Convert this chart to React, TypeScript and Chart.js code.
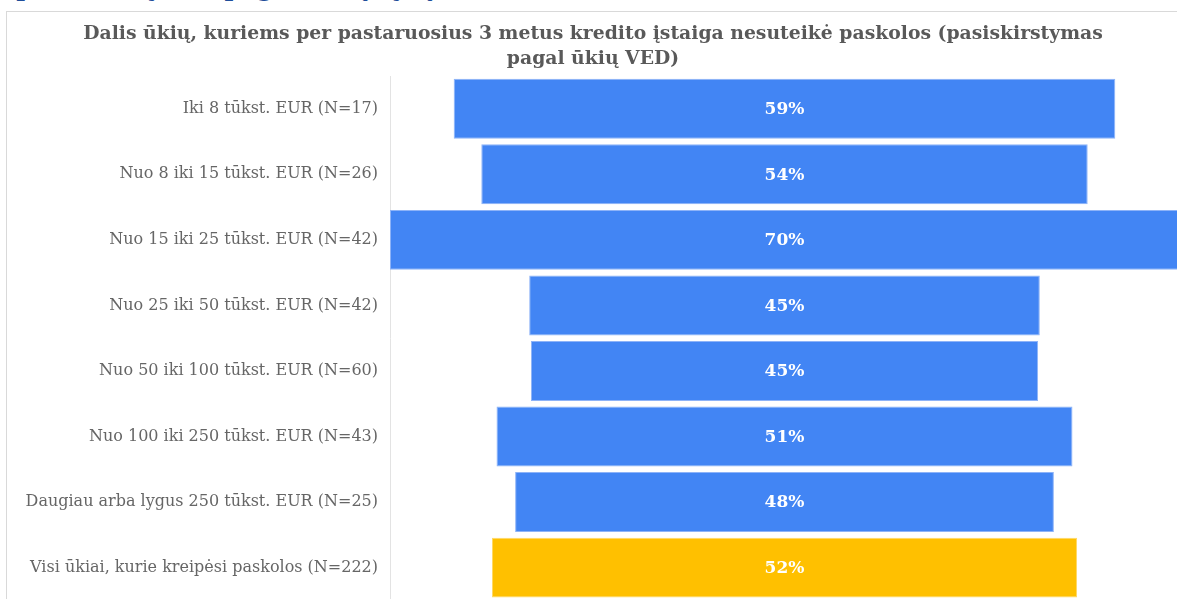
import React, { useEffect, useRef } from "react";
import { Chart, registerables } from "chart.js";

Chart.register(...registerables);

const categories = [
  "Iki 8 tūkst. EUR (N=17)",
  "Nuo 8 iki 15 tūkst. EUR (N=26)",
  "Nuo 15 iki 25 tūkst. EUR (N=42)",
  "Nuo 25 iki 50 tūkst. EUR (N=42)",
  "Nuo 50 iki 100 tūkst. EUR (N=60)",
  "Nuo 100 iki 250 tūkst. EUR (N=43)",
  "Daugiau arba lygus 250 tūkst. EUR (N=25)",
  "Visi ūkiai, kurie kreipėsi paskolos (N=222)",
];
const shares = [58.7, 53.8, 70.0, 45.3, 45.0, 51.1, 47.8, 51.9];
const shareLabels = ["59%", "54%", "70%", "45%", "45%", "51%", "48%", "52%"];
const titleLines = [
  "Dalis ūkių, kuriems per pastaruosius 3 metus kredito įstaiga nesuteikė paskolos (pasiskirstymas",
  "pagal ūkių VED)",
];
const headerText = "(pasiskirstymas pagal ūkių dydį)";

const FONT = "'DejaVu Serif', serif";

export default function App() {
  const ref = useRef<HTMLCanvasElement | null>(null);

  useEffect(() => {
    if (!ref.current) return;
    const maxShare = Math.max(...shares);
    const labelPlugin = {
      id: "barLabels",
      afterDatasetsDraw(chart: any) {
        const ctx = chart.ctx;
        const meta = chart.getDatasetMeta(0);
        ctx.save();
        ctx.fillStyle = "#ffffff";
        ctx.font = `bold 17px ${FONT}`;
        ctx.textAlign = "center";
        ctx.textBaseline = "middle";
        meta.data.forEach((bar: any, i: number) => {
          const p = bar.getProps(["x", "base", "y"], true);
          ctx.fillText(shareLabels[i], (p.x + p.base) / 2, p.y + 1);
        });
        ctx.restore();
      },
    };
    const chart = new Chart(ref.current, {
      type: "bar",
      data: {
        labels: categories,
        datasets: [
          {
            data: shares.map((v) => [-v / 2, v / 2]) as any,
            backgroundColor: categories.map((_, i) =>
              i === categories.length - 1 ? "#FFC000" : "#4285F4"
            ),
            borderColor: categories.map((_, i) =>
              i === categories.length - 1 ? "#FFD966" : "#8DB3F8"
            ),
            borderWidth: 1,
            borderSkipped: false,
            barPercentage: 0.915,
            categoryPercentage: 1,
          },
        ],
      },
      options: {
        indexAxis: "y",
        animation: false,
        responsive: false,
        maintainAspectRatio: false,
        layout: { padding: { left: 0, right: 12, top: 0, bottom: 0 } },
        plugins: {
          legend: { display: false },
          tooltip: { enabled: false },
          title: {
            display: true,
            text: titleLines,
            color: "#595959",
            font: { family: FONT, size: 18.8, weight: "bold", lineHeight: 1.33 },
            padding: { top: 10, bottom: 4 },
          },
        },
        scales: {
          x: {
            display: false,
            min: -maxShare / 2,
            max: maxShare / 2,
          },
          y: {
            grid: { display: false },
            border: { display: true, color: "#e3e3e3", width: 1 },
            ticks: {
              color: "#666666",
              font: { family: FONT, size: 16 },
              padding: 4,
            },
            afterFit(scale: any) {
              scale.width = 383;
            },
          },
        },
      },
      plugins: [labelPlugin],
    });
    return () => chart.destroy();
  }, []);

  return (
    <div
      style={{
        position: "fixed",
        left: 0,
        top: 0,
        width: 1177,
        height: 599,
        overflow: "hidden",
        background: "#ffffff",
      }}
    >
      <div
        style={{
          position: "absolute",
          left: 5,
          top: -27,
          fontFamily: FONT,
          fontWeight: "bold",
          fontSize: 24,
          color: "#1f4e9a",
          whiteSpace: "nowrap",
        }}
      >
        {headerText}
      </div>
      <div
        style={{
          position: "absolute",
          left: 6,
          top: 11,
          width: 1196,
          height: 640,
          borderLeft: "1px solid #d9d9d9",
          borderTop: "1px solid #d9d9d9",
        }}
      >
        <canvas ref={ref} width={1184} height={602} style={{ display: "block" }} />
      </div>
    </div>
  );
}
